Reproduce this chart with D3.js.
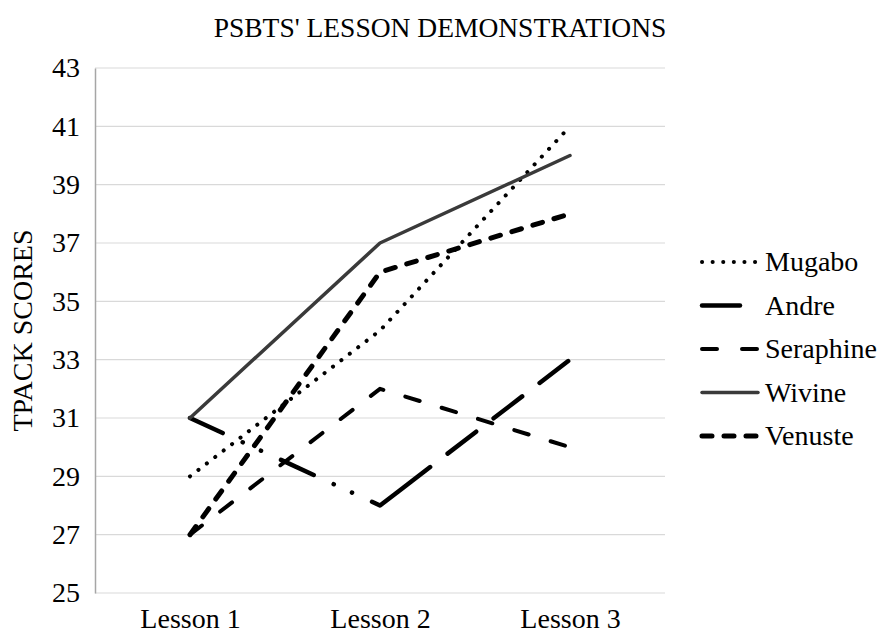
<!DOCTYPE html>
<html>
<head>
<meta charset="utf-8">
<script src="https://cdn.jsdelivr.net/npm/d3@7/dist/d3.min.js"></script>
<style>
  html, body { margin: 0; padding: 0; background: #fff; }
  svg { display: block; }
  svg text { font-family: "Liberation Serif", "Times New Roman", serif !important; fill: #000; }
</style>
</head>
<body>
<svg id="chart" width="880" height="637"></svg>
<script>
const categories = ["Lesson 1", "Lesson 2", "Lesson 3"];
const seriesNames = ["Mugabo", "Andre", "Seraphine", "Wivine", "Venuste"];
const mugabo    = [29, 34, 41];
const andre     = [31, 28, 33];
const seraphine = [27, 32, 30];
const wivine    = [31, 37, 40];
const venuste   = [27, 36, 38];
const yTicks    = [25, 27, 29, 31, 33, 35, 37, 39, 41, 43];
const chartTitle = "PSBTS' LESSON DEMONSTRATIONS";
const yTitle = "TPACK SCORES";

const seriesValues = [mugabo, andre, seraphine, wivine, venuste];

const styles = {
  Mugabo:    { color: "#000", width: 4,   dash: "0.1 10.5", cap: "round" },
  Andre:     { color: "#000", width: 4.5, dash: null, cap: "round" },
  Seraphine: { color: "#000", width: 4,   dash: "15 23", cap: "round" },
  Wivine:    { color: "#3a3a3a", width: 3.5, dash: null, cap: "round" },
  Venuste:   { color: "#000", width: 5,   dash: "10 12", cap: "round" }
};

const FONT = '"Liberation Serif", "Times New Roman", serif';
const svg = d3.select("#chart");
const plot = { left: 95, right: 665, top: 68, bottom: 593 };

const x = d3.scalePoint().domain(categories).range([plot.left, plot.right]).padding(0.5);
const y = d3.scaleLinear().domain([25, 43]).range([plot.bottom, plot.top]);

// gridlines
svg.append("g").selectAll("line").data(yTicks).join("line")
  .attr("x1", plot.left).attr("x2", plot.right)
  .attr("y1", d => y(d)).attr("y2", d => y(d))
  .attr("stroke", "#d9d9d9").attr("stroke-width", 1.2);

// y axis
const yAxis = svg.append("g").attr("transform", `translate(${plot.left},0)`)
  .call(d3.axisLeft(y).tickValues(yTicks).tickSize(0).tickPadding(15))
  .attr("font-family", FONT);
yAxis.select(".domain").attr("stroke", "#a6a6a6").attr("stroke-width", 1.5);
yAxis.selectAll("text").style("font-size", "28px").style("font-family", FONT);

// x axis labels
const xAxis = svg.append("g").attr("transform", `translate(0,${plot.bottom})`)
  .call(d3.axisBottom(x).tickSize(0).tickPadding(15))
  .attr("font-family", FONT);
xAxis.select(".domain").remove();
xAxis.selectAll("text").style("font-size", "28px").style("font-family", FONT);

// title
svg.append("text").attr("x", 440).attr("y", 37).attr("text-anchor", "middle")
  .style("font-size", "27.5px").style("font-family", FONT).text(chartTitle);

// y title
svg.append("text").attr("transform", `translate(32,${(plot.top + plot.bottom) / 2}) rotate(-90)`)
  .attr("text-anchor", "middle").style("font-size", "28px").style("font-family", FONT).text(yTitle);

const line = d3.line().x((d, i) => x(categories[i])).y(d => y(d));

function andreDash(path) {
  const pts = andre.map((v, i) => [x(categories[i]), y(v)]);
  const L1 = Math.hypot(pts[1][0] - pts[0][0], pts[1][1] - pts[0][1]);
  const total = path.getTotalLength();
  const arr = [];
  let pos = 0;
  const pat1 = [36, 22, 0.1, 20, 0.1, 22];
  let k = 0;
  while (pos < L1) { arr.push(pat1[k % 6]); pos += pat1[k % 6]; k++; }
  if (k % 2 === 1) { arr.push(0); }
  while (pos < total + 60) { arr.push(36, 22); pos += 58; }
  return arr.join(" ");
}

seriesNames.forEach((name, si) => {
  const st = styles[name];
  const p = svg.append("path").datum(seriesValues[si])
    .attr("d", line).attr("fill", "none")
    .attr("stroke", st.color).attr("stroke-width", st.width)
    .attr("stroke-linecap", st.cap).attr("stroke-linejoin", "round");
  if (name === "Andre") p.attr("stroke-dasharray", andreDash(p.node()));
  else if (st.dash) p.attr("stroke-dasharray", st.dash);
});

// legend
const legendY = d3.scalePoint().domain(seriesNames).range([262, 436]);
const lg = svg.append("g");
seriesNames.forEach(name => {
  const st = styles[name];
  const yy = legendY(name);
  const ln = lg.append("line").attr("x1", 702).attr("x2", 758).attr("y1", yy).attr("y2", yy)
    .attr("stroke", st.color).attr("stroke-width", st.width).attr("stroke-linecap", st.cap);
  if (name === "Andre") ln.attr("x2", 740);
  else if (name === "Seraphine") ln.attr("stroke-dasharray", "15 25");
  else if (st.dash) ln.attr("stroke-dasharray", st.dash);
  lg.append("text").attr("x", 765).attr("y", yy).attr("dy", "0.33em")
    .style("font-size", "28px").style("font-family", FONT).text(name);
});
</script>
</body>
</html>
